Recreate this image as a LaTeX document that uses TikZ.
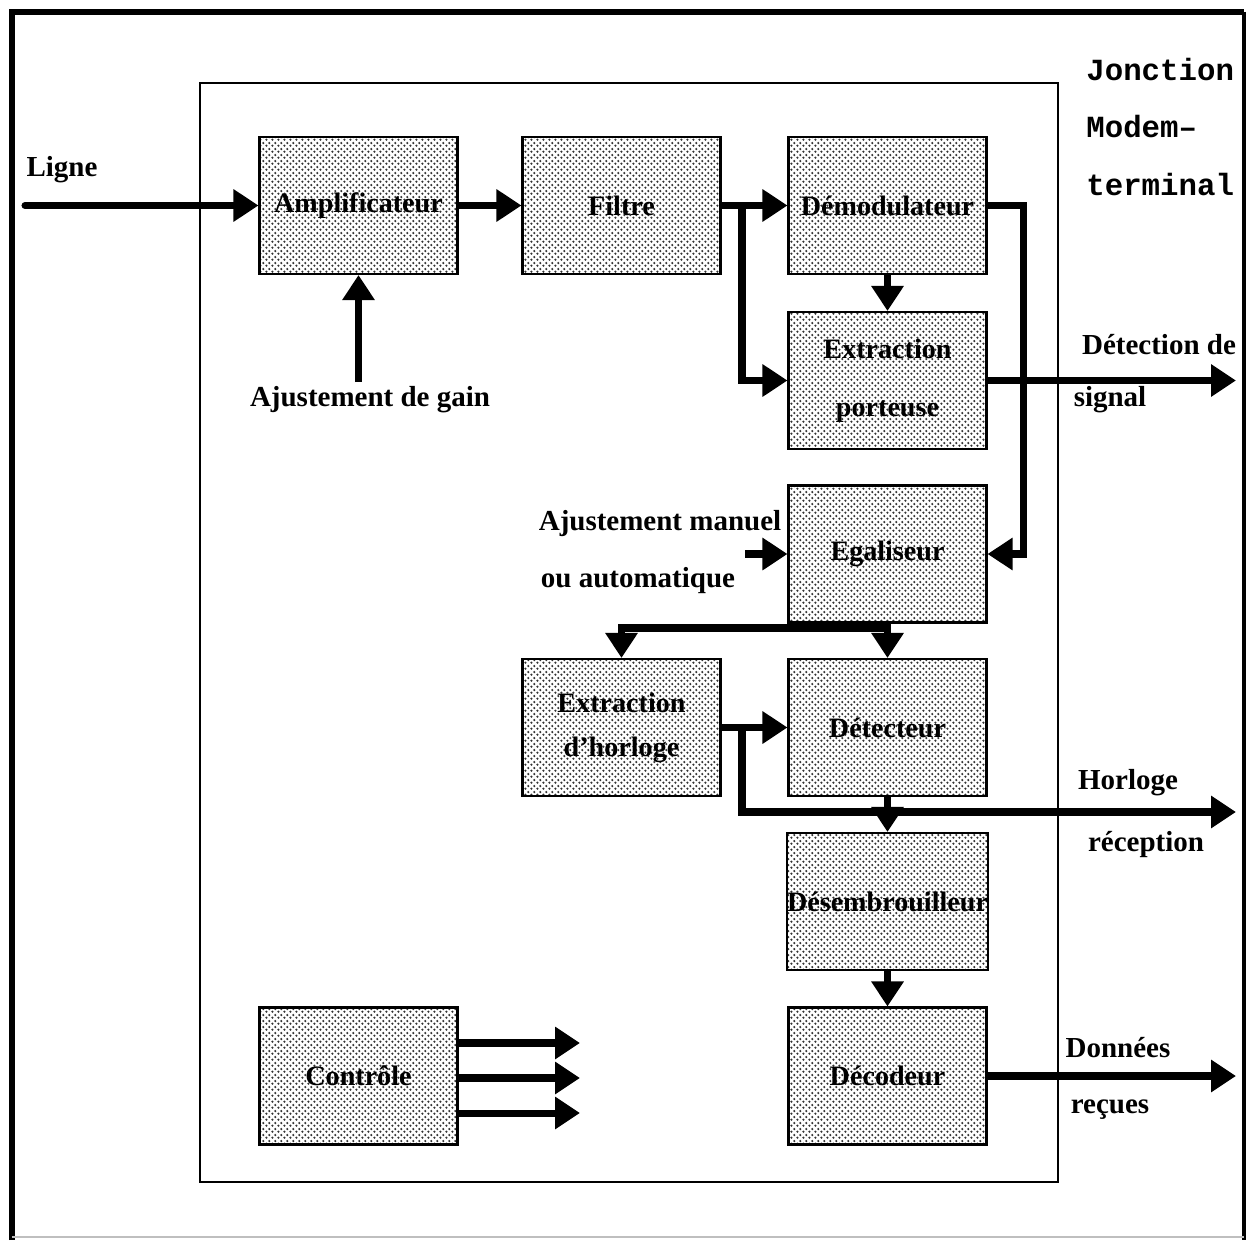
\documentclass[tikz,border=0pt]{standalone}
\usepackage{fontspec}
\setmainfont{Liberation Serif}
\newfontfamily\monofnt{Liberation Mono}
\usetikzlibrary{arrows.meta,patterns.meta}
\pgfdeclarepattern{name=hexdots, type=uncolored,
  bottom left={\pgfpoint{0pt}{0pt}}, top right={\pgfpoint{3.6pt}{3.2pt}},
  tile size={\pgfpoint{3.6pt}{3.2pt}},
  code={\pgfpathcircle{\pgfpoint{0.9pt}{0.8pt}}{0.75pt}\pgfpathcircle{\pgfpoint{2.7pt}{2.4pt}}{0.75pt}\pgfusepath{fill}}}
\begin{document}
\begin{tikzpicture}[x=0.02cm,y=-0.02cm,
  blk/.style={draw, line width=1.2pt, minimum width=3.96cm, minimum height=2.74cm,
    inner sep=0pt, preaction={fill=white}, pattern={hexdots}, pattern color=black!80,
    font=\bfseries\fontsize{16}{19}\selectfont, align=center},
  arr/.style={line width=4pt, line join=miter, -{Triangle[length=0.5cm,width=0.62cm]}},
  lbl/.style={font=\bfseries\fontsize{16.5}{20}\selectfont, inner sep=0pt},
  big/.style={font=\monofnt\bfseries\fontsize{17.5}{20}\selectfont, inner sep=0pt, anchor=west}]
\useasboundingbox (0,0) rectangle (1250,1240);
% outer frame
\draw[line width=3.5pt] (12,1240) -- (12,12) -- (1244,12);
\draw[line width=2pt] (1244,12) -- (1244,1240);
\draw[line width=0.8pt, black!25] (12,1237) -- (1244,1237);
% inner frame
\draw[line width=1pt] (200,83) rectangle (1058,1182);
% blocks
\node[blk] (amp) at (358.5,205.5) {Amplificateur};
\node[blk] (filt) at (621.5,205.5) {Filtre};
\node[blk] (demod) at (887.5,205.5) {Démodulateur};
\node[blk] (extp) at (887.5,380.5) {Extraction\\[14pt]porteuse};
\node[blk] (egal) at (887.5,554) {Egaliseur};
\node[blk] (exth) at (621.5,727.5) {Extraction\\[6pt]d'horloge};
\node[blk] (det) at (887.5,727.5) {Détecteur};
\node[blk] (desem) at (887.5,901.5) {Désembrouilleur};
\node[blk] (decod) at (887.5,1076) {Décodeur};
\node[blk] (ctrl) at (358.5,1076) {Contrôle};
% coordinates
\coordinate (lin) at (25,205.5);
\coordinate (b1) at (742,205.5);
\coordinate (rt) at (1023,205.5);
\coordinate (o1) at (1236,380.5);
\coordinate (g) at (358.5,382);
\coordinate (am) at (745,554);
\coordinate (j1) at (887.5,628);
\coordinate (b2) at (742,727.5);
\coordinate (o2) at (1236,812);
\coordinate (o3) at (1236,1076);
\coordinate (c1) at (580,1043);
\coordinate (c2) at (580,1078);
\coordinate (c3) at (580,1113);
% connectors
\draw[arr, line cap=round] (lin) -- (amp.west);
\draw[arr] (amp.east) -- (filt.west);
\draw[arr] (filt.east) -- (demod.west);
\draw[arr] (b1) |- (extp.west);
\draw[arr] (demod.south) -- (extp.north);
\draw[arr] (demod.east) -- (rt) |- (egal.east);
\draw[arr] (extp.east) -- (o1);
\draw[arr] (g) -- (amp.south);
\draw[arr] (am) -- (egal.west);
\draw[arr] (egal.south) -- (det.north);
\draw[arr] (j1) -| (exth.north);
\draw[arr] (exth.east) -- (det.west);
\draw[arr] (b2) |- (o2);
\draw[arr] (det.south) -- (desem.north);
\draw[arr] (desem.south) -- (decod.north);
\draw[arr] (decod.east) -- (o3);
\draw[arr] (ctrl.east |- c1) -- (c1);
\draw[arr] (ctrl.east |- c2) -- (c2);
\draw[arr] (ctrl.east |- c3) -- (c3);
% labels
\node[lbl] (tl) at (62,170) {Ligne};
\node[lbl] (tg) at (370,400) {Ajustement de gain};
\node[lbl] (tm1) at (660,524) {Ajustement manuel};
\node[lbl] (tm2) at (638,581) {ou automatique};
\node[lbl] (td1) at (1159,345) {Détection de};
\node[lbl] (td2) at (1110,400) {signal};
\node[lbl] (th1) at (1128,783) {Horloge};
\node[lbl] (th2) at (1146,845) {réception};
\node[lbl] (tr1) at (1118,1048) {Données};
\node[lbl] (tr2) at (1110,1110) {reçues};
\node[big] (j1t) at (1086,70) {Jonction};
\node[big] (j2t) at (1086,127) {Modem–};
\node[big] (j3t) at (1086,185) {terminal};
\end{tikzpicture}
\end{document}
